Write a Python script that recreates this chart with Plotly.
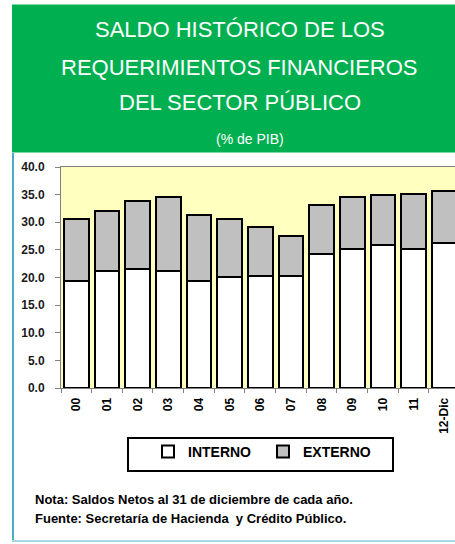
import plotly.graph_objects as go

categories = ["00", "01", "02", "03", "04", "05", "06", "07", "08", "09", "10", "11", "12-Dic"]
total = [30.5, 32.0, 33.8, 34.6, 31.3, 30.5, 29.1, 27.6, 33.1, 34.6, 34.9, 35.2, 35.6]
interno = [19.4, 21.1, 21.5, 21.1, 19.4, 20.1, 20.3, 20.3, 24.3, 25.1, 25.9, 25.1, 26.2]
externo = [round(t - i, 1) for t, i in zip(total, interno)]

W, H = 455, 544
L, R, T, B = 61, 0, 167, 156
PW, PH = W - L - R, H - T - B


def px(x):
    return (x - L) / PW


def py(y):
    return (H - B - y) / PH


FONT = "Liberation Sans, Arial, sans-serif"

fig = go.Figure()
fig.add_trace(go.Bar(x=categories, y=interno, name="INTERNO",
                     marker=dict(color="#FFFFFF", line=dict(color="#000000", width=2))))
fig.add_trace(go.Bar(x=categories, y=externo, name="EXTERNO",
                     marker=dict(color="#C0C0C0", line=dict(color="#000000", width=2))))

shapes = [
    # green header
    dict(type="rect", xref="paper", yref="paper", x0=px(12), x1=px(455), y0=py(152.5), y1=py(4.5),
         fillcolor="#00B050", line=dict(width=0), layer="above"),
    # left teal border
    dict(type="line", xref="paper", yref="paper", x0=px(13), x1=px(13), y0=py(153), y1=py(541),
         line=dict(color="#4BACC6", width=2)),
    # bottom border
    dict(type="line", xref="paper", yref="paper", x0=px(12), x1=px(455), y0=py(541), y1=py(541),
         line=dict(color="#A8D8E4", width=2)),
    # legend box
    dict(type="rect", xref="paper", yref="paper", x0=px(128), x1=px(393), y0=py(471), y1=py(438),
         line=dict(color="#000000", width=2), fillcolor="rgba(0,0,0,0)"),
]

annotations = [
    dict(text="SALDO HISTÓRICO DE LOS", x=px(240), y=py(29), xanchor="center", yanchor="middle",
         xref="paper", yref="paper", showarrow=False, font=dict(family=FONT, size=22, color="#FFFFFF")),
    dict(text="REQUERIMIENTOS FINANCIEROS", x=px(239), y=py(67), xanchor="center", yanchor="middle",
         xref="paper", yref="paper", showarrow=False, font=dict(family=FONT, size=22, color="#FFFFFF")),
    dict(text="DEL SECTOR PÚBLICO", x=px(240), y=py(103), xanchor="center", yanchor="middle",
         xref="paper", yref="paper", showarrow=False, font=dict(family=FONT, size=22, color="#FFFFFF")),
    dict(text="(% de PIB)", x=px(250), y=py(139), xanchor="center", yanchor="middle",
         xref="paper", yref="paper", showarrow=False, font=dict(family=FONT, size=14, color="#FFFFFF")),
    dict(text="<b>Nota: Saldos Netos al 31 de diciembre de cada año.</b>", x=px(33), y=py(499),
         xanchor="left", yanchor="middle", xref="paper", yref="paper", showarrow=False,
         font=dict(family=FONT, size=13, color="#000000")),
    dict(text="<b>Fuente: Secretaría de Hacienda  y Crédito Público.</b>", x=px(33), y=py(518),
         xanchor="left", yanchor="middle", xref="paper", yref="paper", showarrow=False,
         font=dict(family=FONT, size=13, color="#000000")),
]

fig.update_layout(
    width=W, height=H,
    margin=dict(l=L, r=R, t=T, b=B, pad=0),
    barmode="stack", bargap=0.2,
    paper_bgcolor="#FFFFFF", plot_bgcolor="#FFFFC0",
    showlegend=True,
    legend=dict(orientation="h", x=px(148), y=py(452), xanchor="left", yanchor="middle",
                entrywidth=70, entrywidthmode="pixels", traceorder="normal",
                font=dict(family=FONT, size=14, color="#000000", weight="bold"),
                bgcolor="rgba(0,0,0,0)", borderwidth=0),
    shapes=shapes, annotations=annotations,
    font=dict(family=FONT, color="#000000"),
)
fig.update_xaxes(range=[-0.5, 12.35], showline=True, linecolor="#808080", linewidth=1, mirror=True,
                 ticks="outside", tickson="boundaries", ticklen=4, tickcolor="#808080",
                 tickangle=-90, tickfont=dict(family=FONT, size=12, color="#000000", weight="bold"),
                 ticklabelstandoff=4, showgrid=False, fixedrange=True)
fig.update_yaxes(range=[0, 40], dtick=5, tickformat=".1f", showline=True, linecolor="#808080",
                 linewidth=1, ticks="outside", ticklen=5, tickcolor="#808080",
                 tickfont=dict(family=FONT, size=12, color="#1a1a1a", weight="bold"),
                 ticklabelstandoff=8, showgrid=False, zeroline=False, fixedrange=True)

fig.write_html("out.html", config={"displayModeBar": False},
               post_script="document.body.style.margin='0';document.body.style.overflow='hidden';")
